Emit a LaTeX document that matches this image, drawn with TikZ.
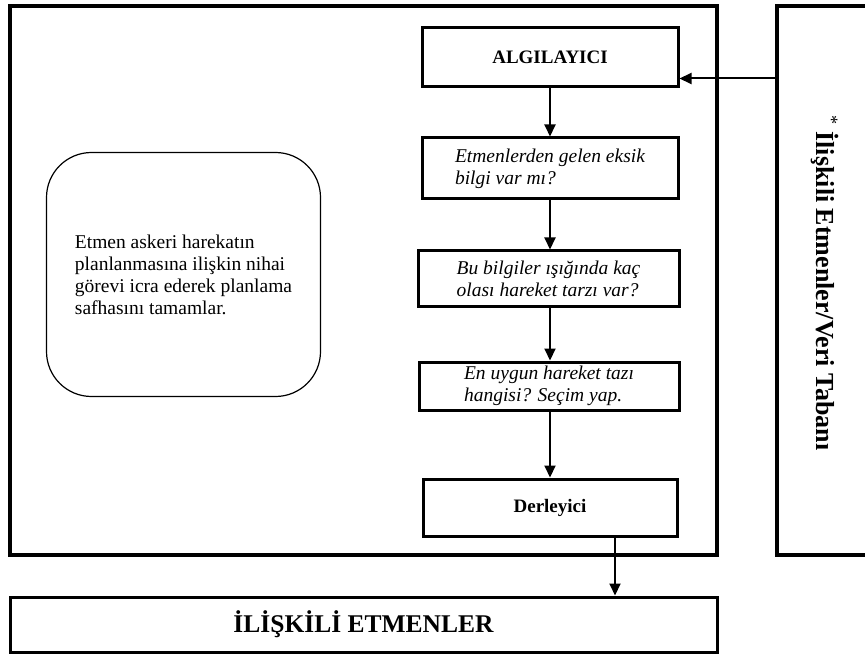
\documentclass[tikz,border=0pt]{standalone}
\usepackage{fontspec}
\setmainfont{Liberation Serif}
\usetikzlibrary{arrows.meta,calc}

\begin{document}
\begin{tikzpicture}[x=1pt,y=-1pt,
  frame/.style={draw,line width=3.5pt,inner sep=0pt},
  stepbox/.style={draw,line width=3pt,minimum width=256pt,align=left,inner sep=1pt,
    font=\fontsize{19.5}{22}\selectfont\itshape},
  titlebox/.style={draw,line width=3pt,minimum width=256pt,
    font=\fontsize{19}{22}\selectfont\bfseries},
  flow/.style={line width=2pt,-{Triangle[length=12pt,width=11pt]}},
  note/.style={draw,line width=1.2pt,rounded corners=45pt,align=left,
    font=\fontsize{19.5}{22}\selectfont}
]
\useasboundingbox (0,0) rectangle (865,655);
\clip (0,0) rectangle (865,655);
\fill[white] (0,0) rectangle (865,655);

% agent frame and the related-agents / database column
\node[frame,minimum width=707pt,minimum height=549pt] (agent) at (363.5,280.5) {};
\node[frame,minimum width=110pt,minimum height=549pt] (db) at (832,280.5) {};
\node[rotate=-90,font=\fontsize{26}{30}\selectfont\bfseries] (dblabel) at (825,283)
  {\textsuperscript{\mdseries*} İlişkili Etmenler/Veri Tabanı};

% processing steps
\node[titlebox,minimum height=59pt] (sensor) at (550,57.5) {ALGILAYICI};
\node[stepbox,minimum height=61pt] (q1) at (550,168.5) {Etmenlerden gelen eksik\\bilgi var mı?};
\node[stepbox,minimum width=261pt,minimum height=55pt] (q2) at (548.5,278.5) {Bu bilgiler ışığında kaç\\olası hareket tarzı var?};
\node[stepbox,minimum width=260pt,minimum height=48pt] (q3) at (549,386) {En uygun hareket tazı\\hangisi? Seçim yap.};
\node[titlebox,minimum width=254pt,minimum height=57pt] (comp) at (550,507.5) {Derleyici};

% goal note
\node[note,minimum width=274pt,minimum height=244pt] (goal) at (183.5,274.5)
  {Etmen askeri harekatın\\planlanmasına ilişkin nihai\\görevi icra ederek planlama\\safhasını tamamlar.};

% output box
\node[draw,line width=3pt,minimum width=707pt,minimum height=55pt,
  font=\fontsize{25.5}{30}\selectfont\bfseries] (rel) at (363.5,624.5) {İLİŞKİLİ ETMENLER};

% connectors
\coordinate (feed) at ($(sensor.south east)+(0,-10)$);
\draw[flow] (db.west |- feed) -- (feed);
\draw[flow] (sensor.south) -- (sensor.south |- q1.north);
\draw[flow] (q1.south) -- (q1.south |- q2.north);
\draw[flow] (q1.south |- q2.south) -- (q1.south |- q3.north);
\draw[flow] (q1.south |- q3.south) -- (q1.south |- comp.north);
\draw[flow] ([xshift=65pt]comp.south) -- ([xshift=65pt]comp.south |- rel.north);
\end{tikzpicture}
\end{document}
